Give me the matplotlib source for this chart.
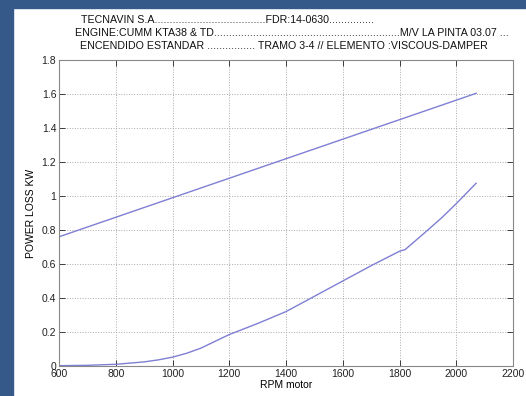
import matplotlib
matplotlib.use("Agg")
import matplotlib.pyplot as plt
from matplotlib.patches import Rectangle

plt.rcParams['font.family'] = ['Liberation Sans', 'DejaVu Sans']

# Data
rpm_upper = [600, 2070]
loss_upper = [0.76, 1.604]

rpm_lower = [600, 700, 800, 900, 950, 1000, 1050, 1100, 1150, 1200, 1300, 1400,
             1500, 1600, 1700, 1800, 1820, 1900, 1950, 2000, 2070]
loss_lower = [0.002, 0.004, 0.01, 0.024, 0.036, 0.052, 0.075, 0.105, 0.145, 0.185,
              0.25, 0.32, 0.41, 0.50, 0.59, 0.675, 0.685, 0.8, 0.874, 0.955, 1.075]

xticks = [600, 800, 1000, 1200, 1400, 1600, 1800, 2000, 2200]
yticks = [0, 0.2, 0.4, 0.6, 0.8, 1.0, 1.2, 1.4, 1.6, 1.8]
ytick_labels = ["0", "0.2", "0.4", "0.6", "0.8", "1", "1.2", "1.4", "1.6", "1.8"]

title_lines = [
    "TECNAVIN S.A.....................................FDR:14-0630...............",
    "ENGINE:CUMM KTA38 & TD..............................................................M/V LA PINTA 03.07 ...",
    "ENCENDIDO ESTANDAR ................ TRAMO 3-4 // ELEMENTO :VISCOUS-DAMPER",
]

W, H = 526, 396
fig = plt.figure(figsize=(W / 100, H / 100), dpi=100)
fig.patch.set_facecolor('white')

# blue frame (left and top)
blue = '#355a8a'
fig.patches.append(Rectangle((0, 0), 13 / W, 1, transform=fig.transFigure, color=blue, zorder=0))
fig.patches.append(Rectangle((0, 1 - 8 / H), 1, 8 / H, transform=fig.transFigure, color=blue, zorder=0))

ax = fig.add_axes([59 / W, 1 - 366 / H, (513 - 59) / W, (366 - 60) / H])
line_color = '#7f7fd4'
ax.plot(rpm_upper, loss_upper, color=line_color, lw=1.0)
ax.plot(rpm_lower, loss_lower, color=line_color, lw=1.0)

ax.set_xlim(600, 2200)
ax.set_ylim(0, 1.8)
ax.set_xticks(xticks)
ax.set_yticks(yticks)
ax.set_yticklabels(ytick_labels)
ax.tick_params(direction='in', top=True, right=True, labelsize=7.5, colors='#222222',
               length=4, width=0.6, pad=2)
for s in ax.spines.values():
    s.set_color('#888888')
    s.set_linewidth(0.8)
ax.grid(True, linestyle=':', color='#aaaaaa', linewidth=0.7)
ax.set_xlabel("RPM motor", fontsize=7.5, labelpad=1)
ax.set_ylabel("POWER LOSS KW", fontsize=7.5, labelpad=4)

xs = [81, 75, 80]
ys = [20, 33, 46]
for t, x, y in zip(title_lines, xs, ys):
    fig.text(x / W, 1 - y / H, t, fontsize=7.7, ha='left', va='center', color='#111111')

fig.savefig("out.png", dpi=100)
